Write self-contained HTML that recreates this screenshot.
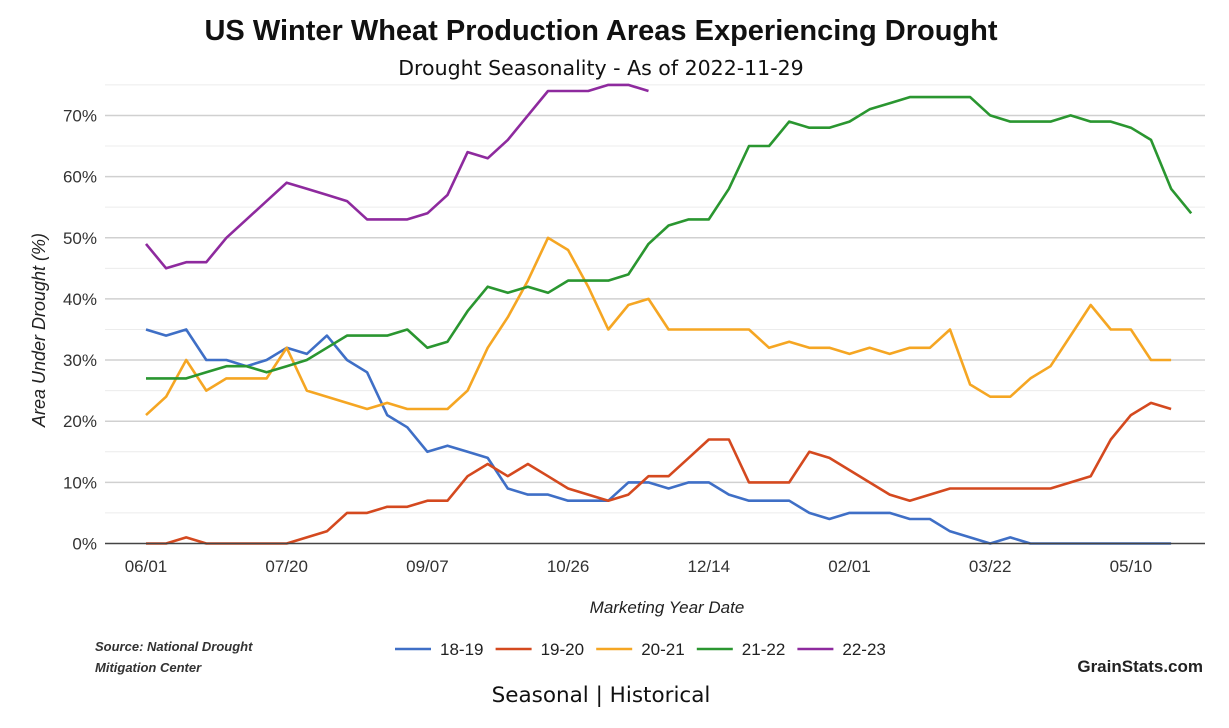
<!DOCTYPE html>
<html><head><meta charset="utf-8"><style>
body{margin:0;background:#fff;font-family:"Liberation Sans",sans-serif;}
svg{display:block}
</style></head><body>
<svg id="chart" width="1229" height="728">
<text x="601" y="40" text-anchor="middle" font-size="29" font-weight="bold" fill="#111">US Winter Wheat Production Areas Experiencing Drought</text>
<text x="601" y="75" text-anchor="middle" font-size="20.5" font-family="DejaVu Sans, sans-serif" fill="#111">Drought Seasonality - As of 2022-11-29</text>
<g id="grid"></g><g id="lines"></g><g id="axes"></g>
<text transform="translate(45,330) rotate(-90)" text-anchor="middle" font-size="18" font-style="italic" fill="#222">Area Under Drought (%)</text>
<text x="667" y="613" text-anchor="middle" font-size="17" font-style="italic" fill="#222">Marketing Year Date</text>
<text x="95" y="651" font-size="13" font-style="italic" font-weight="bold" fill="#333">Source: National Drought</text>
<text x="95" y="672" font-size="13" font-style="italic" font-weight="bold" fill="#333">Mitigation Center</text>
<g id="legend"></g>
<text x="1203" y="672" text-anchor="end" font-size="17" font-weight="bold" fill="#222">GrainStats.com</text>
<text x="601" y="702" text-anchor="middle" font-size="21.5" font-family="DejaVu Sans, sans-serif" fill="#111">Seasonal | Historical</text>
</svg>
<script>
const seriesNames=["18-19","19-20","20-21","21-22","22-23"];
const seriesColors=["#3f6fc6","#d4491f","#f5a623","#2a9630","#8e2a9e"];
const s1819=[35,34,35,30,30,29,30,32,31,34,30,28,21,19,15,16,15,14,9,8,8,7,7,7,10,10,9,10,10,8,7,7,7,5,4,5,5,5,4,4,2,1,0,1,0,0,0,0,0,0,0,0];
const s1920=[0,0,1,0,0,0,0,0,1,2,5,5,6,6,7,7,11,13,11,13,11,9,8,7,8,11,11,14,17,17,10,10,10,15,14,12,10,8,7,8,9,9,9,9,9,9,10,11,17,21,23,22];
const s2021=[21,24,30,25,27,27,27,32,25,24,23,22,23,22,22,22,25,32,37,43,50,48,42,35,39,40,35,35,35,35,35,32,33,32,32,31,32,31,32,32,35,26,24,24,27,29,34,39,35,35,30,30];
const s2122=[27,27,27,28,29,29,28,29,30,32,34,34,34,35,32,33,38,42,41,42,41,43,43,43,44,49,52,53,53,58,65,65,69,68,68,69,71,72,73,73,73,73,70,69,69,69,70,69,69,68,66,58,54];
const s2223=[49,45,46,46,50,53,56,59,58,57,56,53,53,53,54,57,64,63,66,70,74,74,74,75,75,74];
const yTicks=[0,10,20,30,40,50,60,70];
const xTickLabels=["06/01","07/20","09/07","10/26","12/14","02/01","03/22","05/10"];
const xTickWeeks=[0,7,14,21,28,35,42,49];
const NS="http://www.w3.org/2000/svg";
const X=w=>146+w*20.1;
const Y=v=>543.5-v*6.115;
function mk(t,a,p){const e=document.createElementNS(NS,t);for(const k in a)e.setAttribute(k,a[k]);p.appendChild(e);return e;}
const grid=document.getElementById('grid'),lines=document.getElementById('lines'),axes=document.getElementById('axes'),legend=document.getElementById('legend');
for(let v=5;v<=75;v+=5){
  const g=mk('line',{x1:105,x2:1205,y1:Y(v),y2:Y(v),stroke:v%10?'#ececec':'#d0d0d0','stroke-width':v%10?1:1.5},grid);
  
  
}
const base=mk('line',{x1:105,x2:1205,y1:Y(0),y2:Y(0),stroke:'#444','stroke-width':1.5},axes);


yTicks.forEach(v=>{
  const t=mk('text',{x:97,y:Y(v)+6,'text-anchor':'end','font-size':17,fill:'#333'},axes);
  t.textContent=v+'%';
  
  
});
xTickLabels.forEach((l,i)=>{
  const t=mk('text',{x:X(xTickWeeks[i]),y:572,'text-anchor':'middle','font-size':17,fill:'#333'},axes);
  t.textContent=l;
  
  
});
[s1819,s1920,s2021,s2122,s2223].forEach((s,i)=>{
  const p=mk('polyline',{points:s.map((v,w)=>X(w).toFixed(1)+','+Y(v).toFixed(1)).join(' '),fill:'none',stroke:seriesColors[i],'stroke-width':2.6,'stroke-linejoin':'round'},lines);
  
  
  const lx=395+i*100.6;
  const ll=mk('line',{x1:lx,x2:lx+36,y1:649,y2:649,stroke:seriesColors[i],'stroke-width':2.6},legend);
  
  
  const lt=mk('text',{x:lx+45,y:655,'font-size':17,fill:'#222'},legend);
  lt.textContent=seriesNames[i];
  
  
});
</script>
</body></html>
